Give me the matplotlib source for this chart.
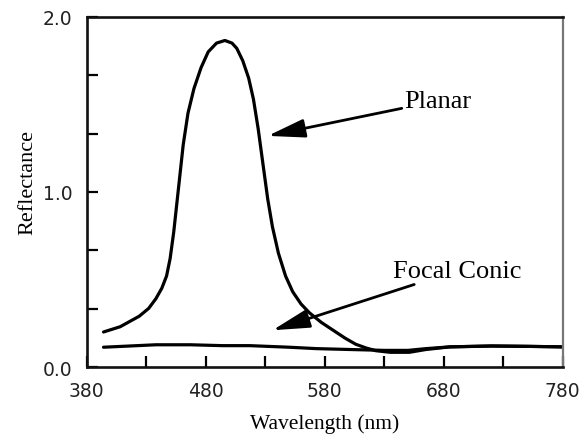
import matplotlib
matplotlib.use("Agg")
import matplotlib.pyplot as plt

# Planar reflectance curve (wavelength nm, reflectance)
planar_wl = [394, 408, 424, 432, 438, 443, 447, 450, 453, 457, 461, 465, 470, 476, 482, 489, 496,
             502, 506, 511, 516, 520, 524, 528, 532, 536, 541, 547, 553, 560, 567, 577, 587,
             597, 606, 615, 623, 635, 651, 665, 685, 720, 750, 780]
planar_r = [0.20, 0.23, 0.29, 0.335, 0.39, 0.45, 0.52, 0.62, 0.77, 1.02, 1.27, 1.45, 1.59, 1.71, 1.80, 1.85, 1.865,
            1.85, 1.82, 1.75, 1.65, 1.53, 1.36, 1.16, 0.96, 0.80, 0.65, 0.52, 0.43, 0.36, 0.31, 0.255, 0.21,
            0.165, 0.13, 0.108, 0.093, 0.084, 0.084, 0.10, 0.115, 0.12, 0.118, 0.115]

# Focal conic reflectance curve
focal_wl = [394, 438, 467, 494, 517, 550, 573, 601, 630, 650, 665, 685, 720, 750, 780]
focal_r = [0.113, 0.127, 0.127, 0.122, 0.122, 0.113, 0.105, 0.10, 0.095, 0.095, 0.105, 0.115,
           0.12, 0.118, 0.115]

xticks_major = [380, 480, 580, 680, 780]
xticks_minor = [430, 530, 630, 730]
yticks_major = [0.0, 1.0, 2.0]
ytick_labels = ["0.0", "1.0", "2.0"]
yticks_minor = [1/3, 2/3, 4/3, 5/3]

fig = plt.figure(figsize=(5.79, 4.35), dpi=100)
ax = fig.add_axes([0.150, 0.154, 0.822, 0.805])

ax.plot(planar_wl, planar_r, color="black", lw=2.3, solid_capstyle="round",
        solid_joinstyle="round")
ax.plot(focal_wl, focal_r, color="black", lw=2.3, solid_capstyle="round",
        solid_joinstyle="round")

ax.set_xlim(380, 780)
ax.set_ylim(0, 2.0)
ax.set_xticks(xticks_major)
ax.set_xticks(xticks_minor, minor=True)
ax.set_yticks(yticks_major)
ax.set_yticks(yticks_minor, minor=True)
ax.set_yticklabels(ytick_labels)
ax.tick_params(which="both", direction="in", length=8, width=1.6, top=False, right=False,
               labelsize=13.5, labelcolor="#222222")
ax.tick_params(axis="x", pad=10)
ax.tick_params(axis="y", pad=10.5)

for s in ["left", "bottom", "top"]:
    ax.spines[s].set_linewidth(1.9)
    ax.spines[s].set_color("#111111")
ax.spines["right"].set_linewidth(1.6)
ax.spines["right"].set_color("#777777")

serif = "Liberation Serif"
ax.set_xlabel("Wavelength (nm)", fontsize=15.5, family=serif)
ax.xaxis.set_label_coords(0.5, -0.133)
ax.set_ylabel("Reflectance", fontsize=16, family=serif)
ax.yaxis.set_label_coords(-0.103, 0.53)

arrow = dict(arrowstyle="-|>,head_length=1.2,head_width=0.3", color="black", lw=2,
             shrinkA=0, shrinkB=0)
ax.annotate("Planar", xy=(532, 1.32), xytext=(647, 1.52), fontsize=19, family=serif,
            va="center", ha="left", arrowprops=arrow)
ax.annotate("Focal Conic", xy=(536, 0.21), xytext=(637, 0.55), fontsize=19, family=serif,
            va="center", ha="left", arrowprops=arrow)

fig.savefig("out.png", dpi=100)
